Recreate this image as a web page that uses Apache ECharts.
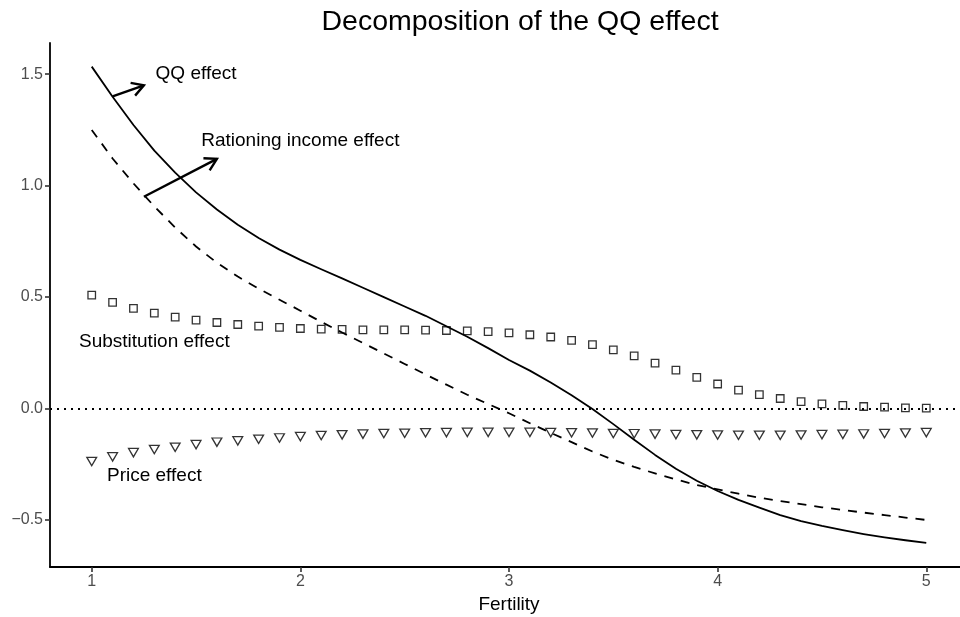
<!DOCTYPE html>
<html>
<head>
<meta charset="utf-8">
<script src="https://cdn.jsdelivr.net/npm/echarts@6/dist/echarts.min.js"></script>
<style>
  html, body { margin: 0; padding: 0; background: #ffffff; }
  #chart { width: 960px; height: 617px; }
</style>
</head>
<body>
<div id="chart"></div>
<script>
// Fertility grid shared by all four components
const fertility = [
  1.0, 1.1, 1.2, 1.3, 1.4, 1.5, 1.6, 1.7, 1.8, 1.9,
  2.0, 2.1, 2.2, 2.3, 2.4, 2.5, 2.6, 2.7, 2.8, 2.9,
  3.0, 3.1, 3.2, 3.3, 3.4, 3.5, 3.6, 3.7, 3.8, 3.9,
  4.0, 4.1, 4.2, 4.3, 4.4, 4.5, 4.6, 4.7, 4.8, 4.9,
  5.0
];

// Total quantity-quality effect (solid line)
const qqEffect = [
  1.534, 1.399, 1.272, 1.157, 1.058, 0.970, 0.893, 0.825, 0.765, 0.713,
  0.667, 0.625, 0.584, 0.542, 0.500, 0.458, 0.416, 0.369, 0.322, 0.271,
  0.218, 0.170, 0.117, 0.060, -0.002, -0.070, -0.140, -0.208, -0.270, -0.324,
  -0.370, -0.410, -0.445, -0.478, -0.505, -0.527, -0.546, -0.563, -0.578, -0.591,
  -0.603
];

// Rationing income effect (dashed line)
const rationingEffect = [
  1.250, 1.122, 1.010, 0.907, 0.812, 0.727, 0.654, 0.592, 0.538, 0.488,
  0.439, 0.389, 0.341, 0.294, 0.247, 0.200, 0.153, 0.107, 0.062, 0.020,
  -0.021, -0.066, -0.109, -0.151, -0.193, -0.230, -0.262, -0.291, -0.318, -0.343,
  -0.363, -0.382, -0.400, -0.415, -0.429, -0.443, -0.455, -0.467, -0.478, -0.489,
  -0.500
];

// Substitution effect (hollow squares)
const substitutionEffect = [
  0.509, 0.476, 0.449, 0.428, 0.410, 0.397, 0.386, 0.377, 0.370, 0.364,
  0.359, 0.356, 0.355, 0.353, 0.353, 0.353, 0.352, 0.350, 0.348, 0.345,
  0.339, 0.331, 0.321, 0.306, 0.287, 0.263, 0.236, 0.204, 0.172, 0.140,
  0.110, 0.083, 0.062, 0.045, 0.031, 0.021, 0.014, 0.009, 0.006, 0.003,
  0.002
];

// Price effect (hollow down-triangles)
const priceEffect = [
  -0.238, -0.217, -0.198, -0.184, -0.174, -0.162, -0.151, -0.145, -0.138, -0.132,
  -0.126, -0.121, -0.118, -0.115, -0.112, -0.111, -0.109, -0.108, -0.107, -0.107,
  -0.107, -0.107, -0.108, -0.109, -0.110, -0.112, -0.113, -0.115, -0.117, -0.118,
  -0.119, -0.120, -0.120, -0.120, -0.119, -0.117, -0.116, -0.114, -0.112, -0.110,
  -0.108
];

// Axis ticks
const xTicks = [1, 2, 3, 4, 5];
const yTicks = [-0.5, 0.0, 0.5, 1.0, 1.5];

// Text annotations (centred on the given data point)
const annotationText = ['QQ effect', 'Rationing income effect', 'Substitution effect', 'Price effect'];
const annotationX = [1.5, 2.0, 1.3, 1.3];
const annotationY = [1.5, 1.2, 0.3, -0.3];

// Arrows pointing from the curves to their labels
const arrowFrom = [[1.1, 1.4], [1.25, 0.95]];
const arrowTo = [[1.25, 1.45], [1.6, 1.12]];

const FONT = '"Liberation Sans", Arial, Helvetica, sans-serif';
const pair = (xs, ys) => xs.map((x, i) => [x, ys[i]]);
const fmtY = v => v.toFixed(1).replace('-', '\u2212');

const chart = echarts.init(document.getElementById('chart'), null, { renderer: 'canvas' });

const option = {
  animation: false,
  backgroundColor: '#ffffff',
  title: {
    text: 'Decomposition of the QQ effect',
    left: 515,
    top: 3,
    textAlign: 'center',
    textStyle: { fontFamily: FONT, fontSize: 28.5, fontWeight: 'normal', color: '#000000' }
  },
  grid: {
    left: 50, right: -8, top: 43, bottom: 50,
    containLabel: false,
    outerBoundsMode: 'none'
  },
  xAxis: {
    type: 'value',
    min: 0.8, max: 5.2,
    name: 'Fertility',
    nameLocation: 'middle',
    nameGap: 25,
    nameTextStyle: { fontFamily: FONT, fontSize: 19, color: '#000000' },
    axisLine: { show: true, onZero: false, lineStyle: { color: '#000000', width: 1.8 } },
    axisTick: { show: true, length: 5, customValues: xTicks, lineStyle: { color: '#333333', width: 1.6 } },
    axisLabel: { customValues: xTicks, margin: 7, fontFamily: FONT, fontSize: 16, color: '#4d4d4d' },
    splitLine: { show: false }
  },
  yAxis: {
    type: 'value',
    min: -0.711, max: 1.64,
    axisLine: { show: true, onZero: false, lineStyle: { color: '#000000', width: 1.8 } },
    axisTick: { show: true, length: 5, customValues: yTicks, lineStyle: { color: '#333333', width: 1.6 } },
    axisLabel: { customValues: yTicks, margin: 7, fontFamily: FONT, fontSize: 16, color: '#4d4d4d', formatter: fmtY },
    splitLine: { show: false }
  },
  series: [
    {
      name: 'Rationing income effect',
      type: 'line',
      data: pair(fertility, rationingEffect),
      showSymbol: false,
      silent: true,
      lineStyle: { color: '#000000', width: 1.8, type: [9, 8], cap: 'butt', join: 'round' },
      markLine: {
        silent: true,
        symbol: 'none',
        label: { show: false },
        lineStyle: { color: '#000000', width: 2, type: [2, 5], cap: 'butt' },
        data: [{ yAxis: 0 }]
      }
    },
    {
      name: 'QQ effect',
      type: 'line',
      data: pair(fertility, qqEffect),
      showSymbol: false,
      silent: true,
      lineStyle: { color: '#000000', width: 1.8, join: 'round' }
    },
    {
      name: 'Substitution effect',
      type: 'scatter',
      data: pair(fertility, substitutionEffect),
      symbol: 'rect',
      symbolSize: 7.5,
      silent: true,
      itemStyle: { color: 'rgba(0,0,0,0)', borderColor: '#000000', borderWidth: 1.3 }
    },
    {
      name: 'Price effect',
      type: 'scatter',
      data: pair(fertility, priceEffect),
      symbol: 'triangle',
      symbolRotate: 180,
      symbolSize: [9.8, 8.4],
      silent: true,
      itemStyle: { color: 'rgba(0,0,0,0)', borderColor: '#000000', borderWidth: 1.3 }
    },
    {
      name: 'arrows',
      type: 'custom',
      silent: true,
      data: arrowFrom.map((a, i) => [a[0], a[1], arrowTo[i][0], arrowTo[i][1]]),
      encode: { x: [0, 2], y: [1, 3] },
      renderItem: function (params, api) {
        const p0 = api.coord([api.value(0), api.value(1)]);
        const p1 = api.coord([api.value(2), api.value(3)]);
        const ang = Math.atan2(p1[1] - p0[1], p1[0] - p0[0]);
        const L = 13.5, A = Math.PI / 6;
        const h1 = [p1[0] - L * Math.cos(ang - A), p1[1] - L * Math.sin(ang - A)];
        const h2 = [p1[0] - L * Math.cos(ang + A), p1[1] - L * Math.sin(ang + A)];
        const st = { stroke: '#000000', lineWidth: 2.4, fill: null, lineCap: 'butt', lineJoin: 'miter' };
        return {
          type: 'group',
          children: [
            { type: 'line', shape: { x1: p0[0], y1: p0[1], x2: p1[0], y2: p1[1] }, style: st },
            { type: 'polyline', shape: { points: [h1, p1, h2] }, style: st }
          ]
        };
      }
    },
    {
      name: 'labels',
      type: 'custom',
      silent: true,
      data: pair(annotationX, annotationY),
      renderItem: function (params, api) {
        const p = api.coord([api.value(0), api.value(1)]);
        return {
          type: 'text',
          x: p[0],
          y: p[1],
          style: {
            text: annotationText[params.dataIndex],
            fill: '#000000',
            fontSize: 19,
            fontFamily: FONT,
            align: 'center',
            verticalAlign: 'middle'
          }
        };
      }
    }
  ]
};

chart.setOption(option);
</script>
</body>
</html>
